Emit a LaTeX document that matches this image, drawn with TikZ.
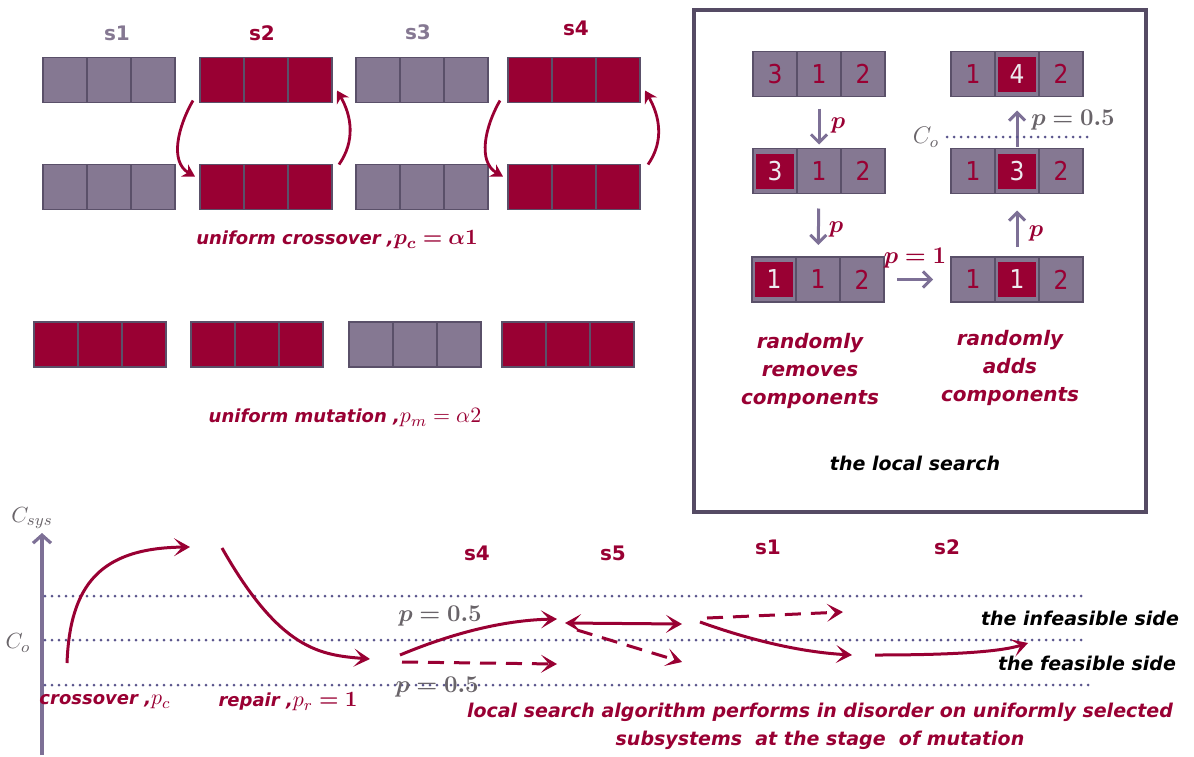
\documentclass[tikz,border=0pt]{standalone}
\usepackage{fontspec}
\usepackage{amsmath,bm}
\setmainfont{DejaVu Sans}
\newfontfamily\condfont{DejaVu Sans Condensed}
\usetikzlibrary{arrows.meta,positioning}

\definecolor{crim}{RGB}{153,0,51}
\definecolor{lilac}{RGB}{133,120,146}
\definecolor{edgec}{RGB}{90,80,105}
\definecolor{dotc}{RGB}{90,85,140}
\definecolor{greyp}{RGB}{125,112,150}
\definecolor{txtgrey}{RGB}{105,100,105}
\definecolor{framec}{RGB}{85,75,100}

\tikzset{
  cell/.style={draw=edgec, line width=0.8pt, fill=lilac, minimum width=22pt,
    minimum height=22.5pt, inner sep=0pt, outer sep=0pt},
  hot/.style={fill=crim},
  pick/.style={fill=crim, minimum width=19pt, minimum height=17.5pt, inner sep=0pt,
    text=white!85!lilac, font=\condfont\fontsize{13}{13}\selectfont},
  digit/.style={text=crim, font=\condfont\fontsize{13}{13}\selectfont},
  slabel/.style={font=\bfseries\fontsize{10}{10}\selectfont},
  note/.style={text=crim, font=\bfseries\itshape\fontsize{9}{13.5}\selectfont, align=center},
  side/.style={text=black, font=\bfseries\itshape\fontsize{9.5}{10}\selectfont},
  swing/.style={crim, line width=1.4pt, -{Stealth[length=6pt,width=7pt]}},
  larr/.style={greyp, line width=1.5pt, -{Straight Barb[length=4pt,width=8pt]}},
  move/.style={crim, line width=1.5pt, -{Stealth[length=8pt,width=9pt,inset=4pt]}},
  maybe/.style={move, dash pattern=on 8pt off 5pt},
  lvl/.style={dotc, line width=1.5pt, line cap=round, dash pattern=on 0pt off 3.5pt},
  plab/.style={text=crim, font=\fontsize{12}{12}\selectfont},
  glab/.style={text=txtgrey, font=\fontsize{11}{11}\selectfont},
}

% larger math inside the italic notes
\newcommand{\notemath}[1]{{\fontsize{11}{11}\selectfont$#1$}}

% three cells side by side: name, position, extra style
\newcommand{\chromo}[3]{%
  \node[cell,#3] (#1a) at #2 {};
  \node[cell,#3,right=0pt of #1a] (#1b) {};
  \node[cell,#3,right=0pt of #1b] (#1c) {};}

\begin{document}
\begin{tikzpicture}[x=0.5pt, y=0.5pt]
\useasboundingbox (0,0) rectangle (1194,-756);

% crossover
\node[slabel, text=lilac] (n1) at (117,-33) {s1};
\node[slabel, text=crim] (n2) at (262,-33) {s2};
\node[slabel, text=lilac] (n3) at (418,-32) {s3};
\node[slabel, text=crim] (n4) at (576,-28) {s4};
\chromo{s1t}{(65,-80)}{}
\chromo{s2t}{(222,-80)}{hot}
\chromo{s3t}{(378,-80)}{}
\chromo{s4t}{(530,-80)}{hot}
\chromo{s1b}{(65,-187)}{}
\chromo{s2b}{(222,-187)}{hot}
\chromo{s3b}{(378,-187)}{}
\chromo{s4b}{(530,-187)}{hot}
\draw[swing] ([shift={(-3.5pt,1pt)}]s2ta.south west) to[out=240,in=150] ([shift={(-2.5pt,-6pt)}]s2ba.north west);
\draw[swing] ([shift={(3.5pt,0pt)}]s2bc.north east) to[out=55,in=-60] ([shift={(2.5pt,6pt)}]s2tc.south east);
\draw[swing] ([shift={(-4pt,1pt)}]s4ta.south west) to[out=240,in=150] ([shift={(-2.5pt,-6pt)}]s4ba.north west);
\draw[swing] ([shift={(4pt,0pt)}]s4bc.north east) to[out=55,in=-60] ([shift={(2.5pt,6pt)}]s4tc.south east);
\node[note] (xcap) at (337,-240) {uniform crossover ,\notemath{\boldsymbol{p_c = \alpha 1}}};

% mutation
\chromo{m1}{(56,-344.5)}{hot}
\chromo{m2}{(213,-344.5)}{hot}
\chromo{m3}{(371,-344.5)}{}
\chromo{m4}{(524,-344.5)}{hot}
\node[note] (mcap) at (345,-418) {uniform mutation ,\notemath{p_m = \alpha 2}};

% the local search
\draw[framec, line width=2pt] (694,-10) rectangle (1146,-512);
\chromo{L1}{(775,-74)}{}
\chromo{L2}{(775,-171)}{}
\chromo{L3}{(774,-279.5)}{}
\chromo{R1}{(973,-74)}{}
\chromo{R2}{(973,-171)}{}
\chromo{R3}{(973,-279.5)}{}
\node[digit] at (L1a) {3};
\node[digit] at (L1b) {1};
\node[digit] at (L1c) {2};
\node[pick] at (L2a) {3};
\node[digit] at (L2b) {1};
\node[digit] at (L2c) {2};
\node[pick] at (L3a) {1};
\node[digit] at (L3b) {1};
\node[digit] at (L3c) {2};
\node[digit] at (R1a) {1};
\node[pick] at (R1b) {4};
\node[digit] at (R1c) {2};
\node[digit] at (R2a) {1};
\node[pick] at (R2b) {3};
\node[digit] at (R2c) {2};
\node[digit] at (R3a) {1};
\node[pick] at (R3b) {1};
\node[digit] at (R3c) {2};
\draw[larr, shorten <=6pt, shorten >=2pt] (L1b) -- (L2b);
\draw[larr, shorten <=7.5pt, shorten >=6pt] (L2b) -- (L3b);
\draw[larr, shorten <=6.5pt, shorten >=9pt] (L3c.east) -- (R3a.west);
\draw[larr, shorten <=5pt, shorten >=8.5pt] (R3b) -- (R2b);
\draw[larr, shorten <=1pt, shorten >=7pt] (R2b) -- (R1b);
\node[plab] at (838,-125) {$\boldsymbol{p}$};
\node[plab] at (836,-229) {$\boldsymbol{p}$};
\node[plab] at (1036,-233) {$\boldsymbol{p}$};
\node[plab] at (915,-258) {$\boldsymbol{p = 1}$};
\node[glab, font=\fontsize{12}{12}\selectfont] at (1073,-120) {$\boldsymbol{p = 0.5}$};
\coordinate (o1) at (947,-137);
\coordinate (o2) at (1088,-137);
\draw[lvl] (o1) -- (o2);
\node[glab, font=\fontsize{12}{12}\selectfont] at (926,-137) {$C_o$};
\node[note, font=\bfseries\itshape\fontsize{10}{14}\selectfont] (rem) at (810,-371) {randomly\\removes\\components};
\node[note, font=\bfseries\itshape\fontsize{10}{14}\selectfont] (add) at (1010,-368) {randomly\\adds\\components};
\node[side] (ls) at (915,-463) {the local search};

% cost axis and levels
\coordinate (ax0) at (42,-755);
\coordinate (ax1) at (42,-533);
\draw[greyp, line width=1.6pt, -{Straight Barb[length=4pt,width=9pt]}] (ax0) -- (ax1);
\node[glab] at (32,-518) {$C_{sys}$};
\node[glab] at (18,-643) {$C_o$};
\coordinate (h1a) at (45,-596);
\coordinate (h1b) at (1087,-596);
\coordinate (h2a) at (45,-640);
\coordinate (h2b) at (1087,-640);
\coordinate (h3a) at (45,-685);
\coordinate (h3b) at (1092,-685);
\draw[lvl] (h1a) -- (h1b);
\draw[lvl] (h2a) -- (h2b);
\draw[lvl] (h3a) -- (h3b);

% moves along the stages
\node[slabel, text=crim] (t4) at (477,-553) {s4};
\node[slabel, text=crim] (t5) at (613,-553) {s5};
\node[slabel, text=crim] (t1) at (768,-547) {s1};
\node[slabel, text=crim] (t2) at (947,-547) {s2};
\coordinate (c1) at (67,-663);
\coordinate (c2) at (190,-547);
\coordinate (r1) at (222,-548);
\coordinate (r2) at (370,-659);
\coordinate (a1) at (400,-655);
\coordinate (a2) at (557,-619);
\coordinate (d1) at (402,-662);
\coordinate (d2) at (557,-664);
\coordinate (b1) at (565,-623);
\coordinate (b2) at (682,-624);
\coordinate (e1) at (577,-630);
\coordinate (e2) at (682,-662);
\coordinate (f1) at (700,-622);
\coordinate (f2) at (852,-655);
\coordinate (g1) at (707,-618);
\coordinate (g2) at (843,-612);
\coordinate (k1) at (875,-655);
\coordinate (k2) at (1028,-643);
\draw[move] (c1) .. controls (70,-585) and (100,-548) .. (c2);
\draw[move] (r1) .. controls (280,-650) and (320,-655) .. (r2);
\draw[move] (a1) .. controls (460,-630) and (510,-620) .. (a2);
\draw[maybe] (d1) -- (d2);
\draw[move, {Stealth[length=8pt,width=9pt,inset=4pt]}-{Stealth[length=8pt,width=9pt,inset=4pt]}] (b1) -- (b2);
\draw[maybe] (e1) -- (e2);
\draw[move] (f1) .. controls (750,-640) and (800,-652) .. (f2);
\draw[maybe] (g1) -- (g2);
\draw[move] (k1) .. controls (950,-655) and (1000,-652) .. (k2);
\node[glab, font=\fontsize{12}{12}\selectfont] at (440,-616) {$\boldsymbol{p = 0.5}$};
\node[glab, font=\fontsize{12}{12}\selectfont] at (437,-687) {$\boldsymbol{p = 0.5}$};
\node[side, anchor=east] (inf) at (1186,-618) {the infeasible side};
\node[side, anchor=east] (fea) at (1183,-663) {the feasible side};
\node[note] (cx) at (105,-702) {crossover ,\notemath{p_c}};
\node[note] (rp) at (288,-702) {repair ,\notemath{p_r \boldsymbol{= 1}}};
\node[note, font=\bfseries\itshape\fontsize{9.5}{14}\selectfont] (lsa) at (820,-726) {local search algorithm performs in disorder on uniformly selected\\subsystems\ \ at the stage\ \ of mutation};
\end{tikzpicture}
\end{document}
